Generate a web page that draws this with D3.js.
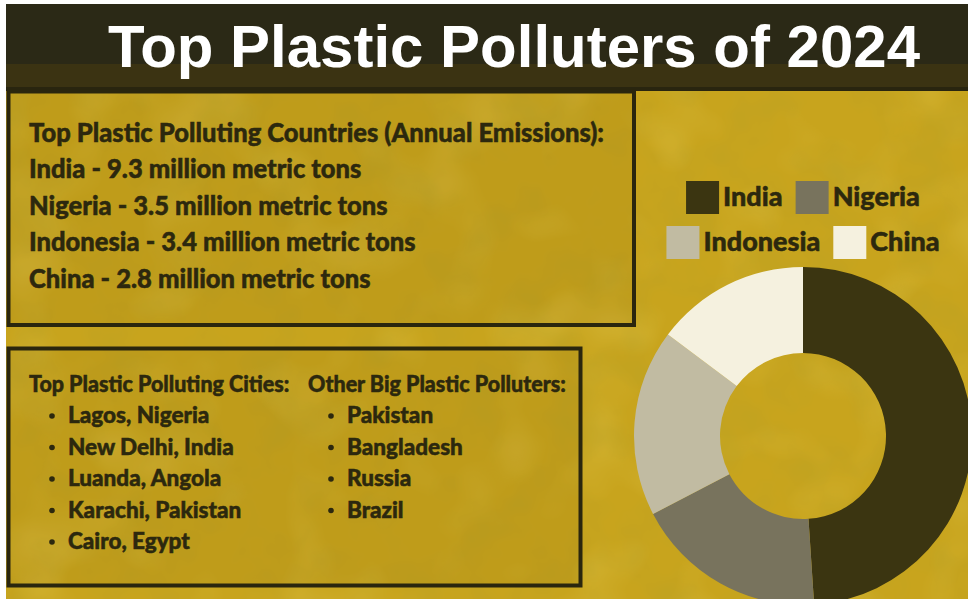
<!DOCTYPE html>
<html>
<head>
<meta charset="utf-8">
<script src="https://cdn.jsdelivr.net/npm/d3@7"></script>
<style>
	html, body { margin: 0; padding: 0; background: #fff; }
	svg { display: block; }
</style>
</head>
<body>
<svg id="chart" width="968" height="599"></svg>
<script>
var title = "Top Plastic Polluters of 2024";
var countries = ["India", "Nigeria", "Indonesia", "China"];
var emissions = [9.3, 3.5, 3.4, 2.8];
var unitLabel = "million metric tons";
var countriesHeader = "Top Plastic Polluting Countries (Annual Emissions):";
var citiesHeader = "Top Plastic Polluting Cities:";
var cities = ["Lagos, Nigeria", "New Delhi, India", "Luanda, Angola", "Karachi, Pakistan", "Cairo, Egypt"];
var othersHeader = "Other Big Plastic Polluters:";
var others = ["Pakistan", "Bangladesh", "Russia", "Brazil"];

var svg = d3.select('#chart');
var W = 968, H = 599;
var ink = '#2c280e';
var textFont = 'Lato, "Noto Sans", sans-serif';

var color = d3.scaleOrdinal()
	.domain(countries)
	.range(['#3b3511', '#78735d', '#c1bba2', '#f5f1df']);

// texture filters
var defs = svg.append('defs');
var mottle = defs.append('filter').attr('id', 'mottle')
	.attr('x', 0).attr('y', 0).attr('width', '100%').attr('height', '100%');
mottle.append('feTurbulence')
	.attr('type', 'fractalNoise').attr('baseFrequency', 0.02)
	.attr('numOctaves', 3).attr('seed', 7);
mottle.append('feColorMatrix').attr('type', 'matrix')
	.attr('values', '0 0 0 0 0.45  0 0 0 0 0.35  0 0 0 0 0.02  0.8 0 0 0 -0.33');

var glow = defs.append('filter').attr('id', 'glow')
	.attr('x', 0).attr('y', 0).attr('width', '100%').attr('height', '100%');
glow.append('feTurbulence')
	.attr('type', 'fractalNoise').attr('baseFrequency', 0.014)
	.attr('numOctaves', 2).attr('seed', 3);
glow.append('feColorMatrix').attr('type', 'matrix')
	.attr('values', '0 0 0 0 0.86  0 0 0 0 0.72  0 0 0 0 0.15  0 0.6 0 0 -0.3');

// background
svg.append('rect').attr('x', 6).attr('y', 4).attr('width', W - 6).attr('height', H - 4)
	.attr('fill', '#c8a41d');
svg.append('rect').attr('x', 6).attr('y', 90).attr('width', W - 6).attr('height', H - 90)
	.attr('filter', 'url(#glow)');
svg.append('rect').attr('x', 6).attr('y', 90).attr('width', W - 6).attr('height', H - 90)
	.attr('filter', 'url(#mottle)');

// title band
svg.append('rect').attr('x', 6).attr('y', 4).attr('width', W - 6).attr('height', 86)
	.attr('fill', '#2b2916');
svg.append('rect').attr('x', 6).attr('y', 64).attr('width', W - 6).attr('height', 24)
	.attr('fill', '#3b3312');
svg.append('rect').attr('x', 6).attr('y', 87).attr('width', W - 6).attr('height', 4)
	.attr('fill', '#29250f');

svg.append('text')
	.attr('x', 108).attr('y', 67)
	.attr('font-family', '"Liberation Sans", Arial, sans-serif')
	.attr('font-weight', 700)
	.attr('font-size', 60)
	.attr('textLength', 812)
	.attr('lengthAdjust', 'spacingAndGlyphs')
	.attr('fill', '#ffffff')
	.text(title);

// boxes
function box(x0, y0, x1, y1) {
	svg.append('rect')
		.attr('x', x0).attr('y', y0).attr('width', x1 - x0).attr('height', y1 - y0)
		.attr('fill', 'rgba(80,60,0,0.07)')
		.attr('stroke', '#2a260e').attr('stroke-width', 4);
}
box(8.5, 91.5, 634, 325);
box(8.5, 348.5, 580.5, 585.5);

function inkText(sel, size) {
	return sel.attr('font-family', textFont)
		.attr('font-weight', 900)
		.attr('font-size', size)
		.attr('fill', ink)
		.attr('stroke', ink)
		.attr('stroke-width', 0.5);
}

// countries box (type is a touch narrower than Lato, squeeze a bit)
var countryLines = [countriesHeader].concat(countries.map(function (c, i) {
	return c + ' - ' + emissions[i] + ' ' + unitLabel;
}));
inkText(svg.append('g')
	.attr('transform', 'translate(29,0) scale(0.983,1)')
	.selectAll('text')
	.data(countryLines)
	.join('text')
	.attr('x', 0)
	.attr('y', function (d, i) { return 142 + i * 36.5; }), 26)
	.text(function (d) { return d; });

// cities + others box
function bulletList(x, header, items) {
	var g = svg.append('g');
	inkText(g.append('text')
		.attr('transform', 'translate(' + x + ',392) scale(0.975,1)'), 22)
		.text(header);
	var rows = g.selectAll('g.item').data(items).join('g')
		.attr('class', 'item')
		.attr('transform', function (d, i) { return 'translate(' + x + ',' + (423 + i * 31.5) + ')'; });
	rows.append('circle')
		.attr('cx', 23).attr('cy', -7).attr('r', 2.8)
		.attr('fill', ink);
	inkText(rows.append('text').attr('x', 39), 22.5)
		.text(function (d) { return d; });
}
bulletList(29, citiesHeader, cities);
bulletList(308, othersHeader, others);

// donut
var cx = 803, cy = 436;
var pie = d3.pie().sort(null).value(function (d) { return d.value; });
var arc = d3.arc().innerRadius(83).outerRadius(169);
var slices = pie(countries.map(function (c, i) { return { name: c, value: emissions[i] }; }));
svg.append('g')
	.attr('transform', 'translate(' + cx + ',' + cy + ')')
	.selectAll('path')
	.data(slices)
	.join('path')
	.attr('d', arc)
	.attr('fill', function (d) { return color(d.data.name); });

// legend, two rows centred above the donut
var sq = 33, gap = 4, itemGap = 13;
var legendRows = [countries.slice(0, 2), countries.slice(2)];
legendRows.forEach(function (row, r) {
	var g = svg.append('g');
	var items = g.selectAll('g').data(row).join('g');
	items.append('rect')
		.attr('width', sq).attr('height', sq)
		.attr('fill', function (d) { return color(d); });
	var labels = inkText(items.append('text')
		.attr('x', sq + gap).attr('y', 25), 27)
		.text(function (d) { return d; });
	var widths = [];
	labels.each(function () { widths.push(sq + gap + this.getComputedTextLength()); });
	var total = d3.sum(widths) + itemGap * (widths.length - 1);
	var xPos = cx - total / 2;
	items.attr('transform', function (d, i) {
		var t = 'translate(' + xPos + ',0)';
		xPos += widths[i] + itemGap;
		return t;
	});
	g.attr('transform', 'translate(0,' + (181 + r * 45) + ')');
});
</script>
</body>
</html>
